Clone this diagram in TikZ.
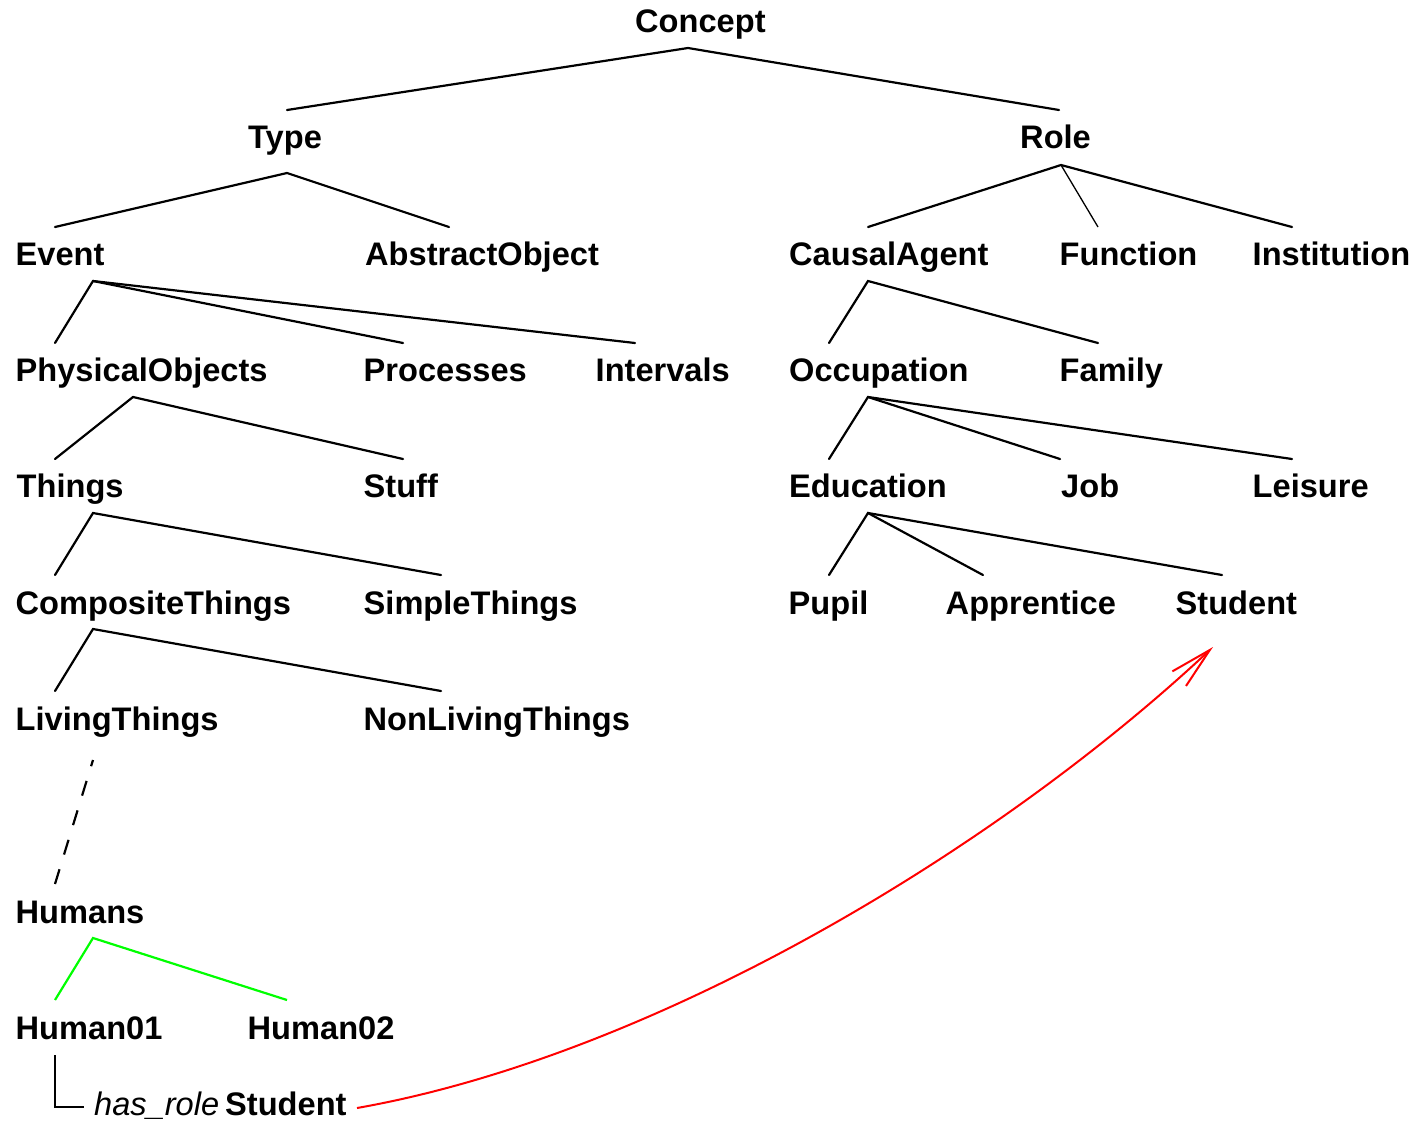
\documentclass[tikz,border=0pt]{standalone}
\usepackage{fontspec}
\setmainfont{Liberation Sans}
\usetikzlibrary{arrows.meta}
\definecolor{linkgreen}{RGB}{0,255,0}
\definecolor{rolered}{RGB}{255,0,0}
\begin{document}
\begin{tikzpicture}[x=1pt,y=-1pt,
  lbl/.style={anchor=base west, inner sep=0pt, font=\fontsize{32.6}{38}\selectfont\bfseries},
  rolelbl/.style={anchor=base west, inner sep=0pt, font=\fontsize{32.6}{38}\selectfont\itshape},
  branch/.style={line width=2.2pt, line cap=round},
  thinbranch/.style={line width=1.3pt},
  instance/.style={line width=2.2pt, dash pattern=on 15.4pt off 15.4pt},
  member/.style={line width=2.2pt, linkgreen},
  roleline/.style={line width=2pt},
  rolelink/.style={line width=2pt, rolered, -{Straight Barb[length=42pt,width=20pt,line width=2pt]}}]
\useasboundingbox (0,0) rectangle (1418,1120);

% concept labels
\node[lbl] (Concept) at (635,32) {Concept};
\node[lbl] (Type) at (248,148) {Type};
\node[lbl] (Role) at (1020,148) {Role};
\node[lbl] (Event) at (15.5,265) {Event};
\node[lbl] (AbstractObject) at (365,265) {AbstractObject};
\node[lbl] (CausalAgent) at (789,265) {CausalAgent};
\node[lbl] (Function) at (1059.5,265) {Function};
\node[lbl] (Institution) at (1252.5,265) {Institution};
\node[lbl] (PhysicalObjects) at (15.5,381) {PhysicalObjects};
\node[lbl] (Processes) at (363.5,381) {Processes};
\node[lbl] (Intervals) at (595.5,381) {Intervals};
\node[lbl] (Occupation) at (789,381) {Occupation};
\node[lbl] (Family) at (1059.5,381) {Family};
\node[lbl] (Things) at (16.5,497) {Things};
\node[lbl] (Stuff) at (363.5,497) {Stuff};
\node[lbl] (Education) at (789,497) {Education};
\node[lbl] (Job) at (1061,497) {Job};
\node[lbl] (Leisure) at (1252.5,497) {Leisure};
\node[lbl] (CompositeThings) at (15.5,614) {CompositeThings};
\node[lbl] (SimpleThings) at (363.5,614) {SimpleThings};
\node[lbl] (Pupil) at (788.5,614) {Pupil};
\node[lbl] (Apprentice) at (945.5,614) {Apprentice};
\node[lbl] (Student) at (1175.5,614) {Student};
\node[lbl] (LivingThings) at (15.5,730) {LivingThings};
\node[lbl] (NonLivingThings) at (363.5,730) {NonLivingThings};
\node[lbl] (Humans) at (15.5,923) {Humans};
\node[lbl] (Human01) at (15.5,1039) {Human01};
\node[lbl] (Human02) at (247.5,1039) {Human02};
\node[rolelbl] (hasrole) at (94,1115) {has\_role};
\node[lbl] (RoleStudent) at (225,1115) {Student};

% connector end points below (-b) and above (-t) each label
\coordinate (Concept-b) at (688,48);
\coordinate (Type-t) at (287,110);
\coordinate (Type-b) at (287,173);
\coordinate (Role-t) at (1059,110);
\coordinate (Role-b) at (1061,165);
\coordinate (Event-t) at (55,227);
\coordinate (Event-b) at (93,281);
\coordinate (AbstractObject-t) at (449,227);
\coordinate (CausalAgent-t) at (868,227);
\coordinate (CausalAgent-b) at (868,281);
\coordinate (Function-t) at (1098,227);
\coordinate (Institution-t) at (1292,227);
\coordinate (PhysicalObjects-t) at (55,343);
\coordinate (PhysicalObjects-b) at (133,397);
\coordinate (Processes-t) at (403,343);
\coordinate (Intervals-t) at (635,343);
\coordinate (Occupation-t) at (829,343);
\coordinate (Occupation-b) at (868,397);
\coordinate (Family-t) at (1098,343);
\coordinate (Things-t) at (55,459);
\coordinate (Things-b) at (93,513);
\coordinate (Stuff-t) at (403,459);
\coordinate (Education-t) at (829,459);
\coordinate (Education-b) at (868,513);
\coordinate (Job-t) at (1060,459);
\coordinate (Leisure-t) at (1292,459);
\coordinate (CompositeThings-t) at (55,575);
\coordinate (CompositeThings-b) at (93,629);
\coordinate (SimpleThings-t) at (441,575);
\coordinate (Pupil-t) at (829,575);
\coordinate (Apprentice-t) at (983,575);
\coordinate (Student-t) at (1222,575);
\coordinate (Student-in) at (1213,647);
\coordinate (LivingThings-t) at (55,691);
\coordinate (LivingThings-b) at (93,760);
\coordinate (NonLivingThings-t) at (441,691);
\coordinate (Humans-t) at (55,884);
\coordinate (Humans-b) at (93,938);
\coordinate (Human01-t) at (55,1000);
\coordinate (Human01-b) at (55,1055);
\coordinate (Human02-t) at (287,1000);
\coordinate (hasrole-corner) at (55,1107);
\coordinate (hasrole-w) at (84,1107);
\coordinate (RoleStudent-e) at (357,1108);

% type hierarchy
\draw[branch] (Type-t) -- (Concept-b) -- (Role-t);
\draw[branch] (Event-t) -- (Type-b) -- (AbstractObject-t);
\draw[branch] (CausalAgent-t) -- (Role-b) -- (Institution-t);
\draw[thinbranch] (Role-b) -- (Function-t);
\draw[branch] (PhysicalObjects-t) -- (Event-b) -- (Processes-t);
\draw[branch] (Event-b) -- (Intervals-t);
\draw[branch] (Occupation-t) -- (CausalAgent-b) -- (Family-t);
\draw[branch] (Things-t) -- (PhysicalObjects-b) -- (Stuff-t);
\draw[branch] (Education-t) -- (Occupation-b) -- (Job-t);
\draw[branch] (Occupation-b) -- (Leisure-t);
\draw[branch] (CompositeThings-t) -- (Things-b) -- (SimpleThings-t);
\draw[branch] (Pupil-t) -- (Education-b) -- (Apprentice-t);
\draw[branch] (Education-b) -- (Student-t);
\draw[branch] (LivingThings-t) -- (CompositeThings-b) -- (NonLivingThings-t);
\draw[instance] (Humans-t) -- (LivingThings-b);

% instances
\draw[member] (Human01-t) -- (Humans-b) -- (Human02-t);

% role assignment
\draw[roleline] (Human01-b) -- (hasrole-corner) -- (hasrole-w);
\draw[rolelink] (RoleStudent-e) .. controls (652,1056) and (994,852) .. (Student-in);
\end{tikzpicture}
\end{document}
